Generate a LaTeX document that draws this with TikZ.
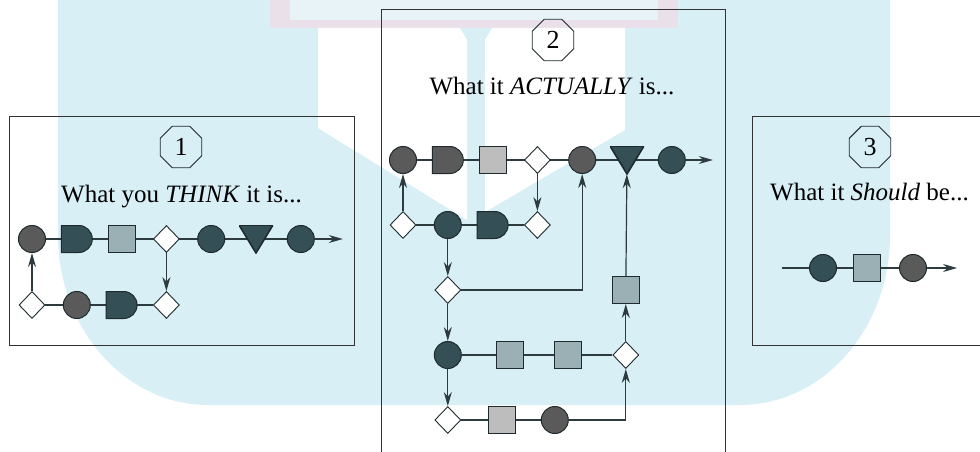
\documentclass[tikz,border=0pt]{standalone}
\usepackage{fontspec}
\setmainfont{Liberation Serif}
\usetikzlibrary{shapes.geometric,shapes.misc,arrows.meta,backgrounds}

\definecolor{wmblue}{RGB}{216,239,245}
\definecolor{wmpink}{RGB}{234,224,233}
\definecolor{wmpale}{RGB}{232,243,247}
\definecolor{procteal}{RGB}{52,79,85}
\definecolor{procgray}{RGB}{90,90,90}
\definecolor{boxgray}{RGB}{189,189,189}
\definecolor{boxteal}{RGB}{154,176,181}
\definecolor{edgecol}{RGB}{30,42,46}
\definecolor{wirecol}{RGB}{45,58,62}

\tikzset{
  circ/.style={circle, draw=edgecol, line width=1pt, fill=#1, minimum size=27pt, inner sep=0pt},
  delay/.style={rounded rectangle, rounded rectangle left arc=none, draw=edgecol, line width=1pt,
    fill=#1, minimum width=31pt, minimum height=27pt, inner sep=0pt},
  sq/.style={rectangle, draw=edgecol, line width=1pt, fill=#1, minimum size=27pt, inner sep=0pt},
  dec/.style={diamond, draw=edgecol, line width=0.9pt, fill=white, minimum width=26pt, minimum height=27pt, inner sep=0pt},
  tri/.style={rectangle, minimum width=34pt, minimum height=28pt, inner sep=0pt,
    path picture={\filldraw[fill=#1, draw=edgecol, line width=1.6pt]
      (path picture bounding box.north west) -- (path picture bounding box.north east)
      -- (path picture bounding box.south) -- cycle;}},
  octo/.style={regular polygon, regular polygon sides=8, draw=edgecol, line width=0.9pt,
    minimum size=45pt, inner sep=0pt, font=\fontsize{26}{30}\selectfont},
  title/.style={font=\fontsize{25}{30}\selectfont, anchor=base, inner sep=0pt},
  panel/.style={draw=black!80, line width=0.9pt},
  wire/.style={draw=wirecol, line width=1.2pt},
  flow/.style={wire, ->},
}

\begin{document}
\begin{tikzpicture}[x=1pt, y=1pt, node distance=44.8pt, >={Stealth[length=14pt,width=8pt]}]
    \path[use as bounding box, clip] (0,0) rectangle (980,451);

    % Watermark
    \begin{scope}[on background layer]
        \fill[wmblue] (58,451) -- (58,216) arc[start angle=180, end angle=270, x radius=150, y radius=170]
            -- (740,46) arc[start angle=270, end angle=360, x radius=150, y radius=170] -- (890,451) -- cycle;
        \fill[wmpink] (270,423) rectangle (678,451);
        \fill[wmpale] (290,431) rectangle (658,451);
        \fill[white] (318,423) -- (460,423) -- (467,411) -- (467,231) -- (318,323) -- cycle;
        \fill[white] (485,411) -- (492,423) -- (625,423) -- (625,321) -- (485,239) -- cycle;
    \end{scope}

    % Panels
    \draw[panel] (9,106) rectangle (354,335);
    \draw[panel] (381,-10) rectangle (725,442);
    \draw[panel] (752,106) rectangle (995,335);

    % Headings
    \node[octo] (num1) at (181,304) {1};
    \node[title] (think) at (181.5,249) {What you \textit{THINK} it is...};
    \node[octo] (num2) at (553,411) {2};
    \node[title] (actual) at (552,357) {What it \textit{ACTUALLY} is...};
    \node[octo] (num3) at (870,304) {3};
    \node[title] (should) at (869.5,251) {What it \textit{Should} be...};

    % Nodes: what you think
    \node[circ=procgray] (t1) at (32,212) {};
    \node[delay=procteal, right of=t1] (t2) {};
    \node[sq=boxteal, right of=t2] (t3) {};
    \node[dec, right of=t3] (t4) {};
    \node[circ=procteal, right of=t4] (t5) {};
    \node[tri=procteal, right of=t5] (t6) {};
    \node[circ=procteal, right of=t6] (t7) {};
    \coordinate (tout) at ([xshift=42pt]t7.center);
    \node[dec, node distance=66pt, below of=t1] (t8) {};
    \node[circ=procgray, right of=t8] (t9) {};
    \node[delay=procteal, right of=t9] (t10) {};
    \node[dec, right of=t10] (t11) {};

    % Nodes: what it actually is
    \node[circ=procgray] (a1) at (403,291) {};
    \node[delay=procgray, right of=a1] (a2) {};
    \node[sq=boxgray, right of=a2] (a3) {};
    \node[dec, right of=a3] (a4) {};
    \node[circ=procgray, right of=a4] (a5) {};
    \node[tri=procteal, right of=a5] (a6) {};
    \node[circ=procteal, right of=a6] (a7) {};
    \coordinate (aout) at ([xshift=41pt]a7.center);
    \node[dec, node distance=65pt, below of=a1] (a8) {};
    \node[circ=procteal, right of=a8] (a9) {};
    \node[delay=procteal, right of=a9] (a10) {};
    \node[dec, right of=a10] (a11) {};
    \node[dec, node distance=65pt, below of=a9] (a12) {};
    \node[circ=procteal, node distance=65pt, below of=a12] (a13) {};
    \node[sq=boxteal, node distance=62pt, right of=a13] (a14) {};
    \node[sq=boxteal, node distance=58pt, right of=a14] (a15) {};
    \node[dec, node distance=58pt, right of=a15] (a16) {};
    \node[sq=boxteal, node distance=65pt, above of=a16] (a17) {};
    \node[dec, node distance=65pt, below of=a13] (a18) {};
    \node[sq=boxgray, node distance=54pt, right of=a18] (a19) {};
    \node[circ=procgray, node distance=53pt, right of=a19] (a20) {};

    % Nodes: what it should be
    \coordinate (sin) at (782,183);
    \node[circ=procteal] (s1) at (823,183) {};
    \node[sq=boxteal, node distance=44pt, right of=s1] (s2) {};
    \node[circ=procgray, node distance=46pt, right of=s2] (s3) {};
    \coordinate (sout) at ([xshift=44pt]s3.center);

    % Lines
    \begin{scope}[on background layer]
        \draw[wire] (t1) -- (t7);
        \draw[wire] (t8) -- (t11);
        \draw[wire] (a1) -- (a7);
        \draw[wire] (a8) -- (a11);
        \draw[wire] (a13) -- (a16);
        \draw[wire] (a18) -- (a20);
        \draw[wire] (sin) -- (s3);
    \end{scope}

    % Arrows
    \draw[flow] (t8) -- (t1);
    \draw[flow] (t4) -- (t11);
    \draw[flow] (t7) -- (tout);
    \draw[flow] (a8) -- (a1);
    \draw[flow] (a4) -- (a11);
    \draw[flow] (a9) -- (a12);
    \draw[flow] (a12) -| (a5);
    \draw[flow] (a12) -- (a13);
    \draw[flow] (a13) -- (a18);
    \draw[flow] (a20) -| (a16);
    \draw[flow] (a16) -- (a17);
    \draw[flow] (a17) -- (a6);
    \draw[flow] (a7) -- (aout);
    \draw[flow] (s3) -- (sout);
\end{tikzpicture}
\end{document}
